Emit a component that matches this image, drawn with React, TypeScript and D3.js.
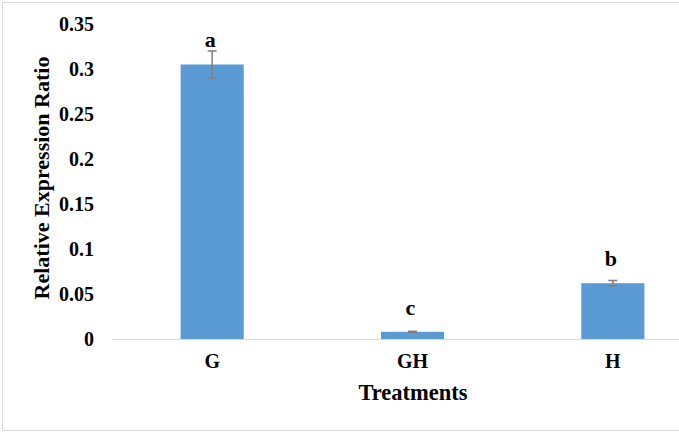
import React from "react";
import * as d3 from "d3";

const categories = ["G", "GH", "H"];
const values = [0.305, 0.008, 0.062];
const errors = [0.015, 0.0006, 0.003];
const letters = ["a", "c", "b"];
// value at which each significance letter sits
const letterAt = [0.325, 0.027, 0.081];
const yTicks = [0, 0.05, 0.1, 0.15, 0.2, 0.25, 0.3, 0.35];
const yTickLabels = ["0", "0.05", "0.1", "0.15", "0.2", "0.25", "0.3", "0.35"];

const W = 679;
const H = 433;
const FONT = "'Liberation Serif', 'Times New Roman', serif";

const App = () => {
  const x = d3
    .scaleBand()
    .domain(categories)
    .range([112, 713])
    .paddingInner(0.685)
    .paddingOuter(0.3425);
  const y = d3.scaleLinear().domain([0, 0.35]).range([339, 24]);

  return (
    <svg
      width={W}
      height={H}
      style={{ position: "absolute", left: 0, top: 0, background: "#fff" }}
    >
      {/* outer frame, right edge cropped off */}
      <rect x={2.5} y={2.5} width={700} height={428} fill="#fff" stroke="#d9d9d9" />

      {/* y tick labels */}
      {yTicks.map((t, i) => (
        <text
          key={t}
          x={94}
          y={y(t) + 6.5}
          textAnchor="end"
          fontFamily={FONT}
          fontWeight="bold"
          fontSize={20}
          fill="#000"
        >
          {yTickLabels[i]}
        </text>
      ))}

      {/* bars */}
      {categories.map((c, i) => (
        <rect
          key={c}
          x={x(c)!}
          y={y(values[i])}
          width={x.bandwidth()}
          height={y(0) - y(values[i])}
          fill="#5b9bd5"
        />
      ))}

      {/* baseline */}
      <line x1={112} x2={679} y1={339.5} y2={339.5} stroke="#d9d9d9" strokeWidth={1} />

      {/* error bars */}
      {categories.map((c, i) => {
        const cx = x(c)! + x.bandwidth() / 2;
        const top = y(values[i] + errors[i]);
        const bot = y(values[i] - errors[i]);
        return (
          <g key={c} stroke="#7f7f7f" strokeWidth={1.5}>
            <line x1={cx} x2={cx} y1={top} y2={bot} />
            <line x1={cx - 4.5} x2={cx + 4.5} y1={top} y2={top} />
            <line x1={cx - 4.5} x2={cx + 4.5} y1={bot} y2={bot} />
          </g>
        );
      })}

      {/* significance letters */}
      {categories.map((c, i) => (
        <text
          key={c}
          x={x(c)! + x.bandwidth() / 2 - 2}
          y={y(letterAt[i])}
          textAnchor="middle"
          fontFamily={FONT}
          fontWeight="bold"
          fontSize={22}
          fill="#000"
        >
          {letters[i]}
        </text>
      ))}

      {/* x tick labels */}
      {categories.map((c) => (
        <text
          key={c}
          x={x(c)! + x.bandwidth() / 2}
          y={368}
          textAnchor="middle"
          fontFamily={FONT}
          fontWeight="bold"
          fontSize={20}
          fill="#000"
        >
          {c}
        </text>
      ))}

      {/* axis titles */}
      <text
        x={413}
        y={400}
        textAnchor="middle"
        fontFamily={FONT}
        fontWeight="bold"
        fontSize={22.5}
        fill="#000"
      >
        Treatments
      </text>
      <text
        transform="translate(49,178) rotate(-90)"
        textAnchor="middle"
        fontFamily={FONT}
        fontWeight="bold"
        fontSize={22}
        fill="#000"
      >
        Relative Expression Ratio
      </text>
    </svg>
  );
};

export default App;
